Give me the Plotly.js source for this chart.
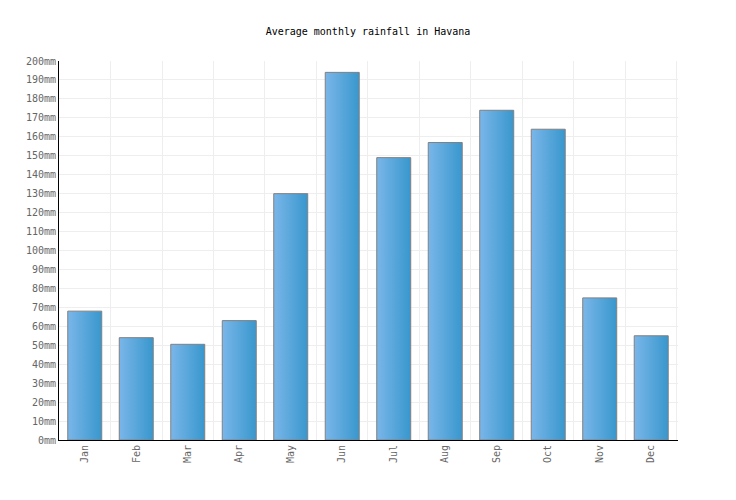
<!DOCTYPE html>
<html>
<head>
<meta charset="utf-8">
<script src="https://cdn.plot.ly/plotly-3.0.1.min.js"></script>
<style>html,body{margin:0;padding:0;background:#fff;}#chart{width:736px;height:500px;}</style>
</head>
<body>
<div id="chart"></div>
<script>
var months = ["Jan","Feb","Mar","Apr","May","Jun","Jul","Aug","Sep","Oct","Nov","Dec"];
var rainfall = [68, 54, 50.5, 63, 130, 194, 149, 157, 174, 164, 75, 55];
var yTicks = [0,10,20,30,40,50,60,70,80,90,100,110,120,130,140,150,160,170,180,190,200];

var fontFam = "DejaVu Sans Mono, monospace";
var trace = {
  type: "bar",
  x: months,
  y: rainfall,
  width: 0.66,
  marker: {color: "#5aa8de", line: {color: "#808080", width: 1}},
  hoverinfo: "none"
};
var layout = {
  width: 736, height: 500,
  margin: {l: 59, r: 58, t: 61, b: 60},
  paper_bgcolor: "#fff", plot_bgcolor: "#fff",
  title: {text: "Average monthly rainfall in Havana", x: 0.5, xanchor: "center", y: 0.938, yanchor: "middle",
          font: {family: fontFam, size: 10, color: "#000"}},
  showlegend: false,
  xaxis: {
    type: "category", tickson: "boundaries", range: [-0.5, 11.52], showgrid: true, gridcolor: "#eeeeee", gridwidth: 1,
    showline: true, linecolor: "#000", linewidth: 1, tickangle: -90, ticks: "",
    tickfont: {family: fontFam, size: 10, color: "#666"}, zeroline: false, fixedrange: true
  },
  yaxis: {
    range: [0, 200], tickvals: yTicks, ticktext: yTicks.map(function(v){return v + "mm";}),
    showgrid: true, gridcolor: "#eeeeee", gridwidth: 1, showline: true, linecolor: "#000", linewidth: 1,
    zeroline: false, ticks: "", ticklen: 0, tickfont: {family: fontFam, size: 10, color: "#666"}, fixedrange: true
  }
};
Plotly.newPlot("chart", [trace], layout, {staticPlot: true}).then(function(gd){
  var svg = gd.querySelector("svg.main-svg");
  var ns = "http://www.w3.org/2000/svg";
  var defs = svg.querySelector("defs") || svg.insertBefore(document.createElementNS(ns, "defs"), svg.firstChild);
  var lg = document.createElementNS(ns, "linearGradient");
  lg.setAttribute("id", "barGrad");
  lg.setAttribute("x1", "0"); lg.setAttribute("y1", "0"); lg.setAttribute("x2", "1"); lg.setAttribute("y2", "0");
  [["0%", "#7ab6e9"], ["100%", "#3897cd"]].forEach(function(s){
    var st = document.createElementNS(ns, "stop");
    st.setAttribute("offset", s[0]); st.setAttribute("stop-color", s[1]);
    lg.appendChild(st);
  });
  defs.appendChild(lg);
  gd.querySelectorAll(".trace.bars .point path").forEach(function(p){
    p.style.fill = "url(#barGrad)";
  });
});
</script>
</body>
</html>
